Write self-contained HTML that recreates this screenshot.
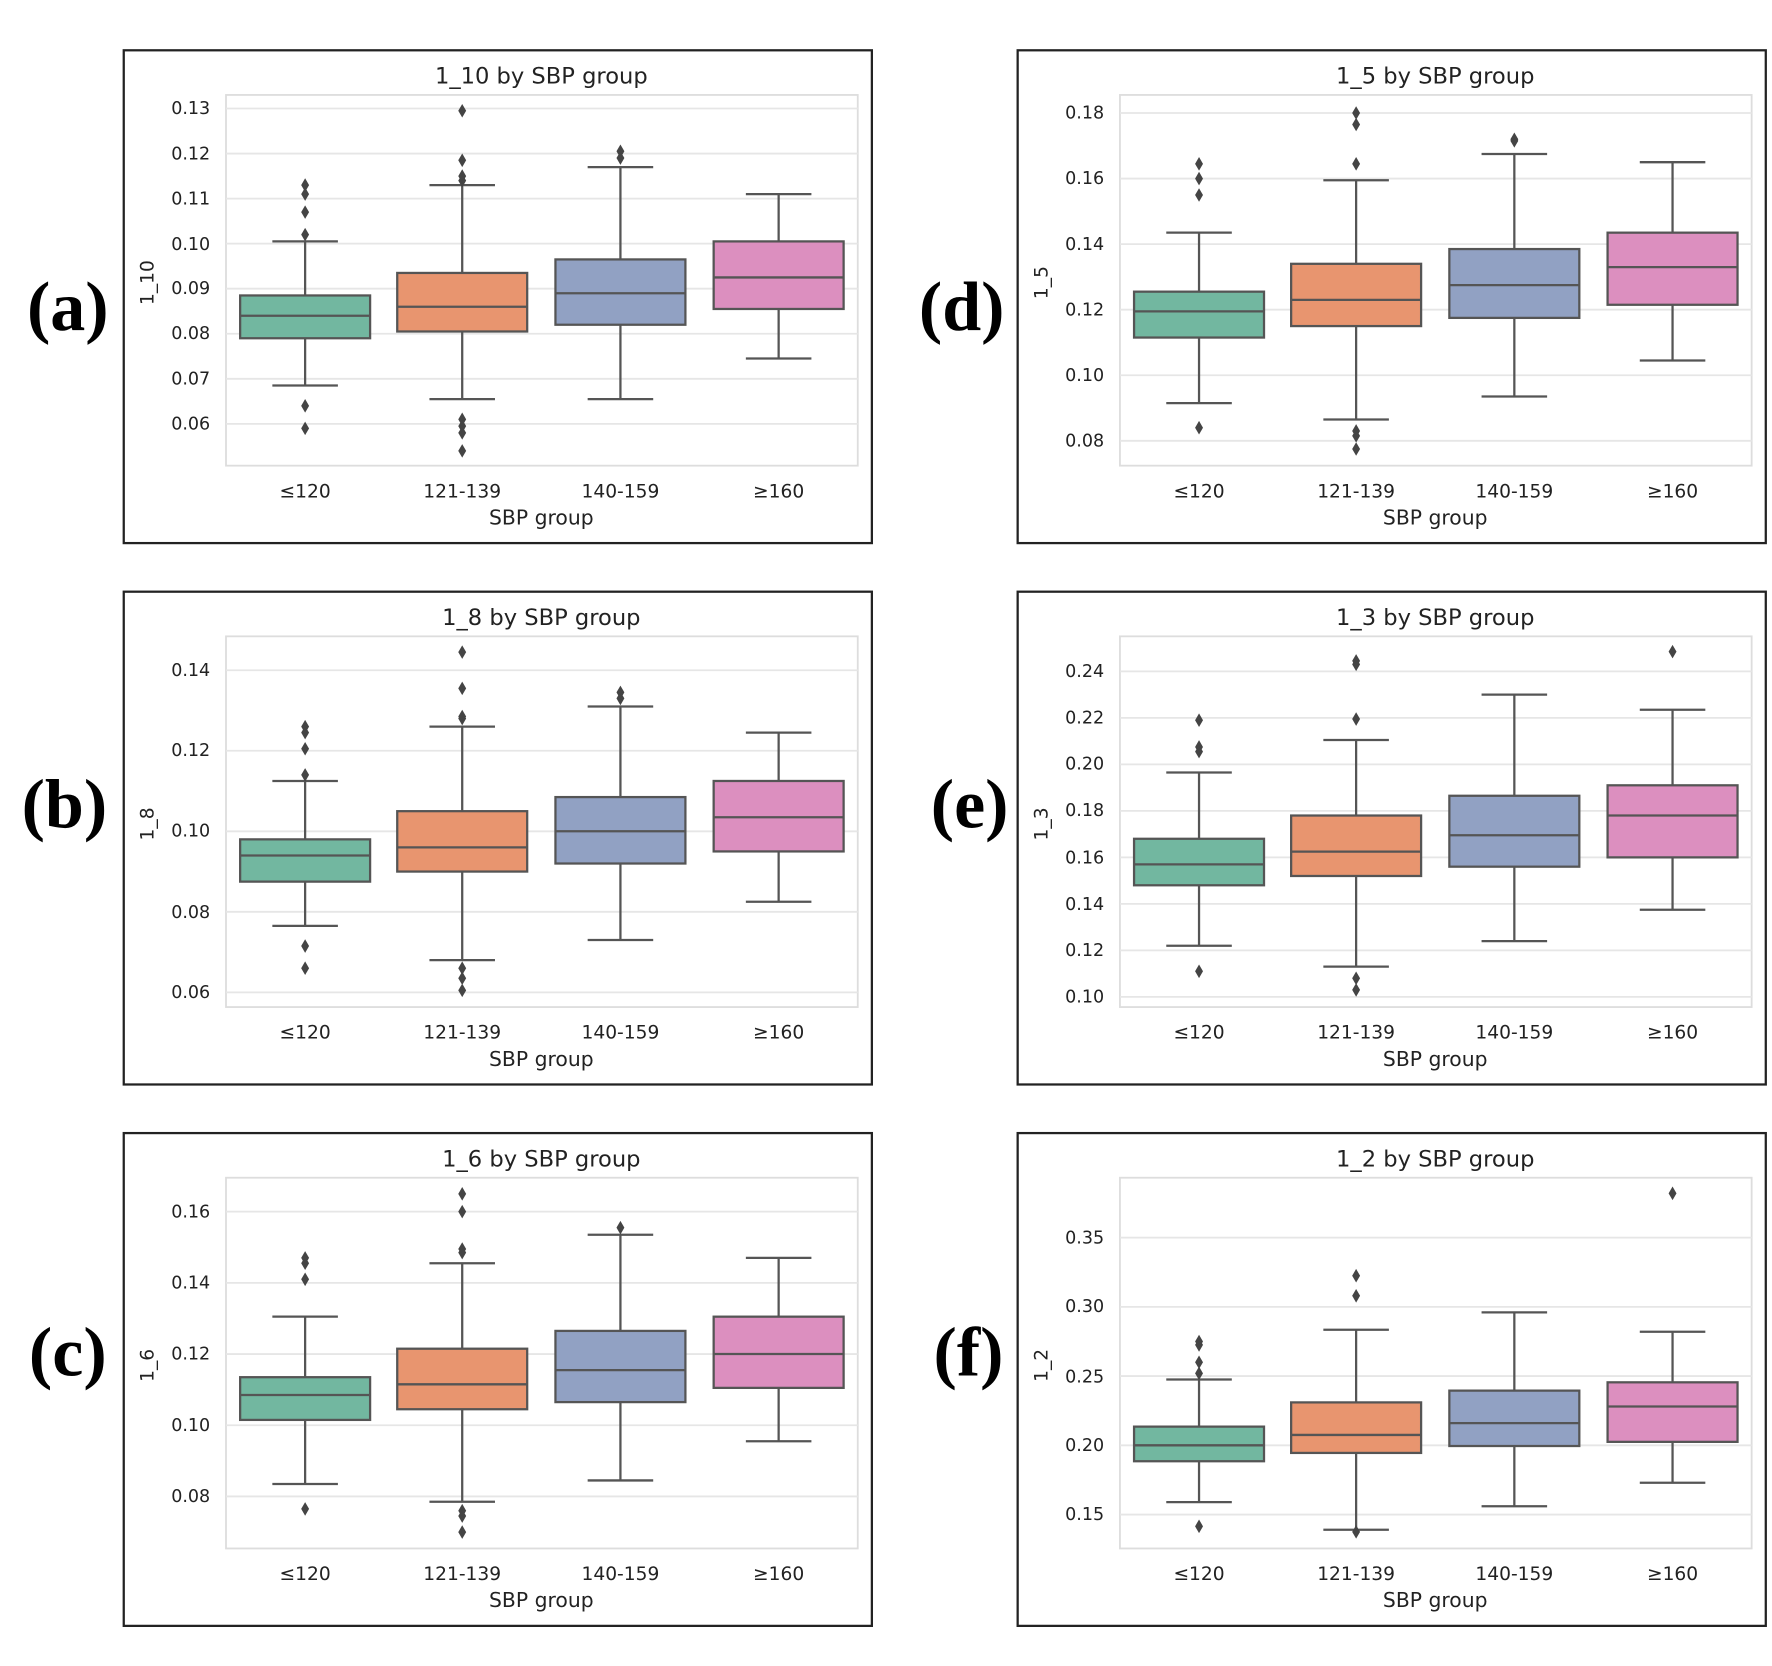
<!DOCTYPE html>
<html><head><meta charset="utf-8"><style>
html,body{margin:0;padding:0;background:#fff}
svg{display:block}
.t{font-family:"DejaVu Sans","Liberation Sans",sans-serif;fill:#222}
.tt{font-size:20px;text-anchor:middle}
.tk{font-size:15.5px;text-anchor:end}
.xk{font-size:16.5px;text-anchor:middle}
.xl{font-size:18px;text-anchor:middle}
.yl{font-size:16.5px;text-anchor:middle}
.L{font-family:"Liberation Serif",serif;font-weight:bold;font-size:62px;text-anchor:middle;fill:#000}
</style></head><body>
<svg id="s" width="1772" height="1666" viewBox="0 0 1568 1474" preserveAspectRatio="none" xmlns="http://www.w3.org/2000/svg">
<g id="shapes"></g>
<text class="L" x="60" y="292">(a)</text>
<text class="L" x="57" y="732">(b)</text>
<text class="L" x="60" y="1217">(c)</text>
<text class="L" x="851" y="292">(d)</text>
<text class="L" x="858" y="732">(e)</text>
<text class="L" x="857" y="1217">(f)</text>

<g transform="translate(109,44)" class="t">
<text class="tt" x="370" y="30">1_10 by SBP group</text>
<text class="tk" x="77" y="57">0.13</text><text class="tk" x="77" y="97">0.12</text><text class="tk" x="77" y="137">0.11</text><text class="tk" x="77" y="177">0.10</text><text class="tk" x="77" y="216">0.09</text><text class="tk" x="77" y="256">0.08</text><text class="tk" x="77" y="296">0.07</text><text class="tk" x="77" y="336">0.06</text>
<text class="xk" x="161" y="396">≤120</text><text class="xk" x="300" y="396">121-139</text><text class="xk" x="440" y="396">140-159</text><text class="xk" x="580" y="396">≥160</text>
<text class="xl" x="370" y="420">SBP group</text>
<text class="yl" transform="translate(27,206) rotate(-90)">1_10</text>
</g>
<g transform="translate(109,523)" class="t">
<text class="tt" x="370" y="30">1_8 by SBP group</text>
<text class="tk" x="77" y="75">0.14</text><text class="tk" x="77" y="146">0.12</text><text class="tk" x="77" y="217">0.10</text><text class="tk" x="77" y="289">0.08</text><text class="tk" x="77" y="360">0.06</text>
<text class="xk" x="161" y="396">≤120</text><text class="xk" x="300" y="396">121-139</text><text class="xk" x="440" y="396">140-159</text><text class="xk" x="580" y="396">≥160</text>
<text class="xl" x="370" y="420">SBP group</text>
<text class="yl" transform="translate(27,206) rotate(-90)">1_8</text>
</g>
<g transform="translate(109,1002)" class="t">
<text class="tt" x="370" y="30">1_6 by SBP group</text>
<text class="tk" x="77" y="75">0.16</text><text class="tk" x="77" y="138">0.14</text><text class="tk" x="77" y="201">0.12</text><text class="tk" x="77" y="264">0.10</text><text class="tk" x="77" y="327">0.08</text>
<text class="xk" x="161" y="396">≤120</text><text class="xk" x="300" y="396">121-139</text><text class="xk" x="440" y="396">140-159</text><text class="xk" x="580" y="396">≥160</text>
<text class="xl" x="370" y="420">SBP group</text>
<text class="yl" transform="translate(27,206) rotate(-90)">1_6</text>
</g>
<g transform="translate(900,44)" class="t">
<text class="tt" x="370" y="30">1_5 by SBP group</text>
<text class="tk" x="77" y="61">0.18</text><text class="tk" x="77" y="119">0.16</text><text class="tk" x="77" y="177">0.14</text><text class="tk" x="77" y="235">0.12</text><text class="tk" x="77" y="293">0.10</text><text class="tk" x="77" y="351">0.08</text>
<text class="xk" x="161" y="396">≤120</text><text class="xk" x="300" y="396">121-139</text><text class="xk" x="440" y="396">140-159</text><text class="xk" x="580" y="396">≥160</text>
<text class="xl" x="370" y="420">SBP group</text>
<text class="yl" transform="translate(27,206) rotate(-90)">1_5</text>
</g>
<g transform="translate(900,523)" class="t">
<text class="tt" x="370" y="30">1_3 by SBP group</text>
<text class="tk" x="77" y="76">0.24</text><text class="tk" x="77" y="117">0.22</text><text class="tk" x="77" y="158">0.20</text><text class="tk" x="77" y="199">0.18</text><text class="tk" x="77" y="241">0.16</text><text class="tk" x="77" y="282">0.14</text><text class="tk" x="77" y="323">0.12</text><text class="tk" x="77" y="364">0.10</text>
<text class="xk" x="161" y="396">≤120</text><text class="xk" x="300" y="396">121-139</text><text class="xk" x="440" y="396">140-159</text><text class="xk" x="580" y="396">≥160</text>
<text class="xl" x="370" y="420">SBP group</text>
<text class="yl" transform="translate(27,206) rotate(-90)">1_3</text>
</g>
<g transform="translate(900,1002)" class="t">
<text class="tt" x="370" y="30">1_2 by SBP group</text>
<text class="tk" x="77" y="98">0.35</text><text class="tk" x="77" y="159">0.30</text><text class="tk" x="77" y="221">0.25</text><text class="tk" x="77" y="282">0.20</text><text class="tk" x="77" y="343">0.15</text>
<text class="xk" x="161" y="396">≤120</text><text class="xk" x="300" y="396">121-139</text><text class="xk" x="440" y="396">140-159</text><text class="xk" x="580" y="396">≥160</text>
<text class="xl" x="370" y="420">SBP group</text>
<text class="yl" transform="translate(27,206) rotate(-90)">1_2</text>
</g>
</svg>
<script>
var P=[
{ox:109,oy:44,v0:0.13,y0:52,v1:0.06,y1:331,ticks:[0.13,0.12,0.11,0.10,0.09,0.08,0.07,0.06],
 g:[[0.0685,0.079,0.084,0.0885,0.1005,[0.113,0.111,0.107,0.102,0.064,0.059]],
    [0.0655,0.0805,0.086,0.0935,0.113,[0.1295,0.1185,0.115,0.114,0.061,0.0595,0.058,0.054]],
    [0.0655,0.082,0.089,0.0965,0.117,[0.1205,0.119]],
    [0.0745,0.0855,0.0925,0.1005,0.111,[]]]},
{ox:109,oy:523,v0:0.14,y0:70,v1:0.06,y1:355,ticks:[0.14,0.12,0.10,0.08,0.06],
 g:[[0.0765,0.0875,0.094,0.098,0.1125,[0.126,0.1245,0.1205,0.114,0.0715,0.066]],
    [0.068,0.090,0.096,0.105,0.126,[0.1445,0.1355,0.1285,0.128,0.066,0.0635,0.0605]],
    [0.073,0.092,0.100,0.1085,0.131,[0.1345,0.133]],
    [0.0825,0.095,0.1035,0.1125,0.1245,[]]]},
{ox:109,oy:1002,v0:0.16,y0:70,v1:0.08,y1:322,ticks:[0.16,0.14,0.12,0.10,0.08],
 g:[[0.0835,0.1015,0.1085,0.1135,0.1305,[0.147,0.1455,0.141,0.0765]],
    [0.0785,0.1045,0.1115,0.1215,0.1455,[0.165,0.16,0.1495,0.1485,0.076,0.0745,0.070]],
    [0.0845,0.1065,0.1155,0.1265,0.1535,[0.1555]],
    [0.0955,0.1105,0.120,0.1305,0.147,[]]]},
{ox:900,oy:44,v0:0.18,y0:56,v1:0.08,y1:346,ticks:[0.18,0.16,0.14,0.12,0.10,0.08],
 g:[[0.0915,0.1115,0.1195,0.1255,0.1435,[0.1645,0.16,0.155,0.084]],
    [0.0865,0.115,0.123,0.134,0.1595,[0.18,0.1765,0.1645,0.083,0.0815,0.0775]],
    [0.0935,0.1175,0.1275,0.1385,0.1675,[0.172,0.1715]],
    [0.1045,0.1215,0.133,0.1435,0.165,[]]]},
{ox:900,oy:523,v0:0.24,y0:71,v1:0.10,y1:359,ticks:[0.24,0.22,0.20,0.18,0.16,0.14,0.12,0.10],
 g:[[0.122,0.148,0.157,0.168,0.1965,[0.219,0.2075,0.2055,0.111]],
    [0.113,0.152,0.1625,0.178,0.2105,[0.2445,0.243,0.2195,0.108,0.103]],
    [0.124,0.156,0.1695,0.1865,0.230,[]],
    [0.1375,0.160,0.178,0.191,0.2235,[0.2485]]]},
{ox:900,oy:1002,v0:0.35,y0:93,v1:0.15,y1:338,ticks:[0.35,0.30,0.25,0.20,0.15],
 g:[[0.159,0.1885,0.200,0.2135,0.2475,[0.275,0.2725,0.26,0.252,0.1415]],
    [0.139,0.1945,0.2075,0.231,0.2835,[0.3225,0.308,0.1375]],
    [0.156,0.1995,0.216,0.2395,0.296,[]],
    [0.173,0.2025,0.228,0.2455,0.282,[0.382]]]}
];
var C=["#72b7a0","#e8956f","#91a1c3","#dc8fbf"],X=[161,300,440,580],L="#555";
var h="";
P.forEach(function(p){
 var f=function(v){return p.y0+(v-p.v0)*(p.y1-p.y0)/(p.v1-p.v0);};
 h+='<g transform="translate('+p.ox+','+p.oy+')">';
 h+='<rect x="0.5" y="0.5" width="662" height="436" fill="#fff" stroke="#222" stroke-width="2"/>';
 h+='<rect x="91" y="40" width="559" height="328" fill="#fff" stroke="#ddd" stroke-width="1.6"/>';
 p.ticks.forEach(function(t){var y=f(t);h+='<line x1="91" x2="650" y1="'+y+'" y2="'+y+'" stroke="#e6e6e6" stroke-width="1.6"/>';});
 p.g.forEach(function(g,i){
  var x=X[i],w=115,cw=58;
  var a=f(g[0]),b=f(g[1]),m=f(g[2]),c=f(g[3]),d=f(g[4]);
  h+='<line x1="'+x+'" x2="'+x+'" y1="'+d+'" y2="'+a+'" stroke="'+L+'" stroke-width="2"/>';
  h+='<line x1="'+(x-cw/2)+'" x2="'+(x+cw/2)+'" y1="'+a+'" y2="'+a+'" stroke="'+L+'" stroke-width="2"/>';
  h+='<line x1="'+(x-cw/2)+'" x2="'+(x+cw/2)+'" y1="'+d+'" y2="'+d+'" stroke="'+L+'" stroke-width="2"/>';
  h+='<rect x="'+(x-w/2)+'" y="'+c+'" width="'+w+'" height="'+(b-c)+'" fill="'+C[i]+'" stroke="'+L+'" stroke-width="2"/>';
  h+='<line x1="'+(x-w/2)+'" x2="'+(x+w/2)+'" y1="'+m+'" y2="'+m+'" stroke="'+L+'" stroke-width="2"/>';
  g[5].forEach(function(o){var y=f(o);h+='<path d="M'+x+' '+(y-6)+'L'+(x+3.5)+' '+y+'L'+x+' '+(y+6)+'L'+(x-3.5)+' '+y+'Z" fill="#444"/>';});
 });
 h+='</g>';
});
document.getElementById("shapes").innerHTML=h;
</script>
</body></html>
